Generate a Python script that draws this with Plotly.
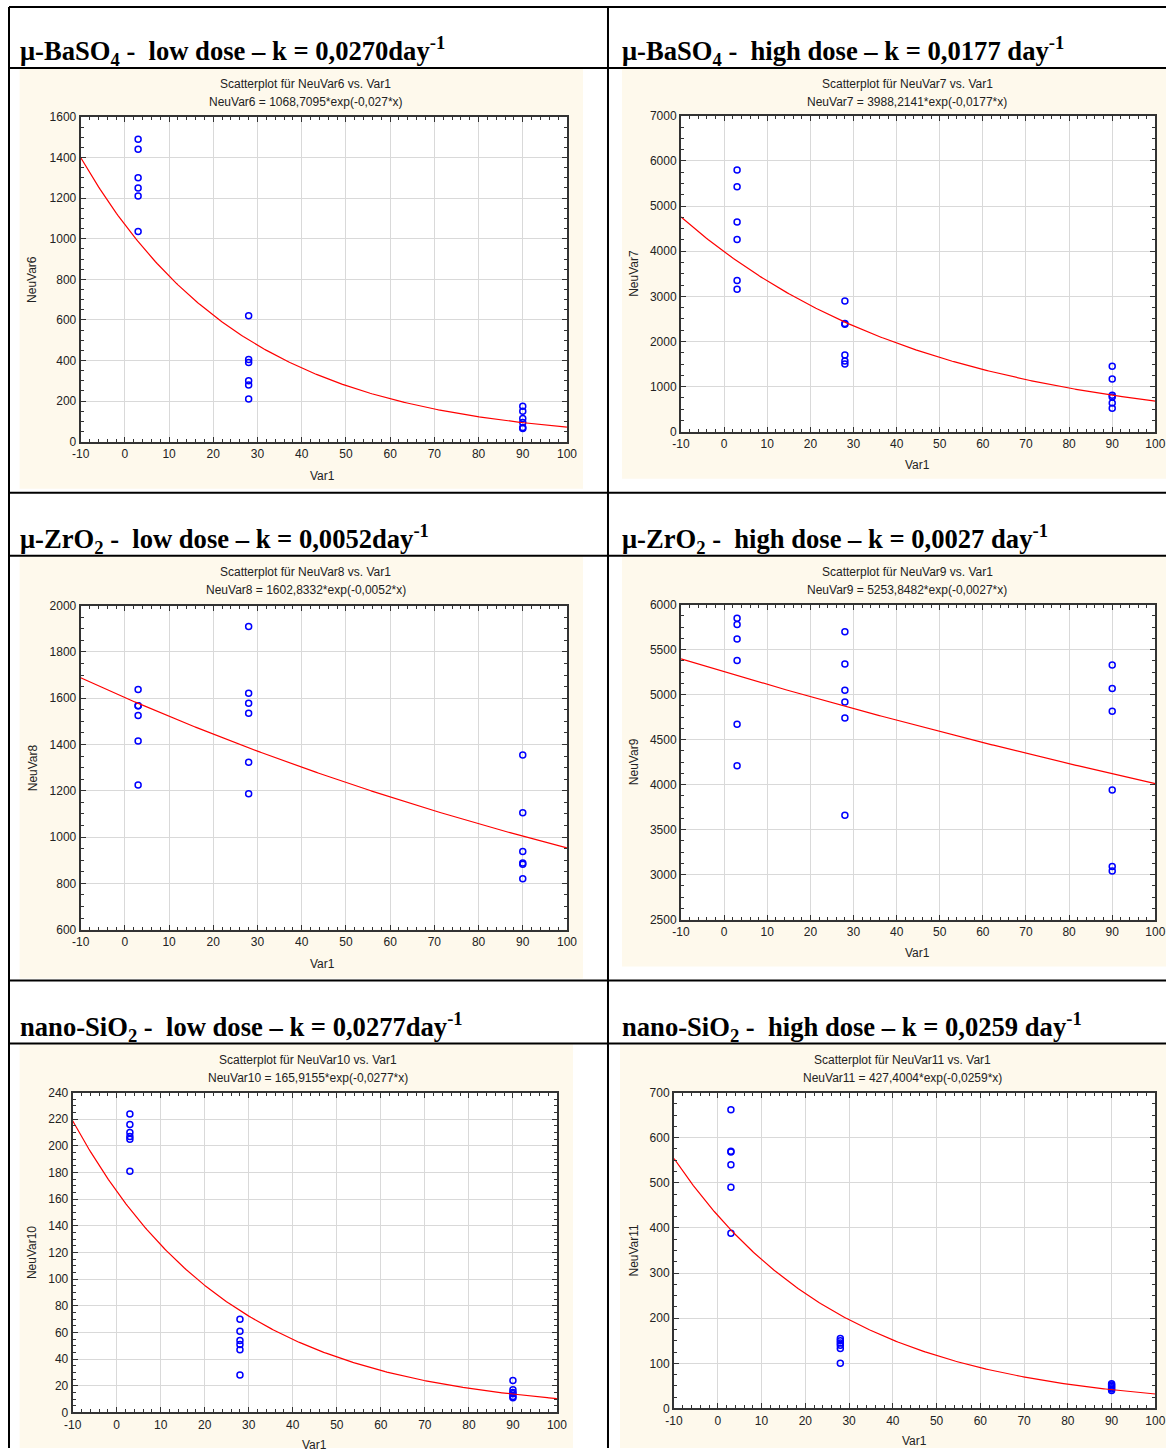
import plotly.graph_objects as go
import numpy as np

# ---------------- data ----------------
var1 = [3, 3, 3, 3, 3, 3, 28, 28, 28, 28, 28, 28, 90, 90, 90, 90, 90, 90]

neuvar6 = [1490, 1440, 1300, 1250, 1210, 1035, 620, 405, 390, 300, 280, 210, 175, 150, 115, 95, 70, 65]
neuvar7 = [5800, 5430, 4650, 4260, 3350, 3160, 2900, 2400, 2380, 1700, 1570, 1500, 1450, 1170, 810, 770, 640, 520]
neuvar8 = [1638, 1568, 1525, 1415, 1225, 1568, 1910, 1622, 1578, 1535, 1323, 1187, 1355, 1105, 938, 888, 882, 820]
neuvar9 = [5850, 5780, 5620, 5380, 4670, 4210, 5700, 5340, 5050, 4920, 4740, 3660, 5330, 5070, 4815, 3940, 3090, 3040]
neuvar10 = [224, 216, 210, 207, 205, 181, 70, 61, 54, 51, 47, 28, 24, 17, 15, 14, 12, 11]
neuvar11 = [662, 570, 568, 540, 490, 388, 155, 150, 145, 140, 133, 100, 55, 52, 49, 46, 43, 40]

series = [neuvar6, neuvar7, neuvar8, neuvar9, neuvar10, neuvar11]
var_names = ["NeuVar6", "NeuVar7", "NeuVar8", "NeuVar9", "NeuVar10", "NeuVar11"]

fit_A = [1068.7095, 3988.2141, 1602.8332, 5253.8482, 165.9155, 427.4004]
fit_k = [0.027, 0.0177, 0.0052, 0.0027, 0.0277, 0.0259]
fit_A_txt = ["1068,7095", "3988,2141", "1602,8332", "5253,8482", "165,9155", "427,4004"]
fit_k_txt = ["0,027", "0,0177", "0,0052", "0,0027", "0,0277", "0,0259"]

headers = [
    "μ-BaSO<sub>4</sub> -  low dose – k = 0,0270day<sup>-1</sup>",
    "μ-BaSO<sub>4</sub> -  high dose – k = 0,0177 day<sup>-1</sup>",
    "μ-ZrO<sub>2</sub> -  low dose – k = 0,0052day<sup>-1</sup>",
    "μ-ZrO<sub>2</sub> -  high dose – k = 0,0027 day<sup>-1</sup>",
    "nano-SiO<sub>2</sub> -  low dose – k = 0,0277day<sup>-1</sup>",
    "nano-SiO<sub>2</sub> -  high dose – k = 0,0259 day<sup>-1</sup>",
]

x_tickvals = [-10, 0, 10, 20, 30, 40, 50, 60, 70, 80, 90, 100]
x_ticktext = ["-10", "0", "10", "20", "30", "40", "50", "60", "70", "80", "90", "100"]
y_ranges = [[0, 1600], [0, 7000], [600, 2000], [2500, 6000], [0, 240], [0, 700]]
y_dticks = [200, 1000, 200, 500, 20, 100]
y_minor = [50, 250, 50, 125, 5, 25]
x_range = [-10, 100]

# ---------------- layout geometry (target picture pixels) ----------------
W, H = 1176, 1455
# measured mapping page -> photographed picture: pic = A + S * page
AX, SX = 9.4, 0.9832
AY, SY = 6.1, 0.9907

plot_px = [
    (81, 567, 116, 441),
    (681, 1155, 115, 431),
    (81, 567, 605, 929),
    (681, 1155, 604, 919),
    (73, 557, 1092, 1412),
    (674, 1155, 1092, 1408),
]
cream_px = [
    (20, 583, 67, 488),
    (622, 1170, 67, 478),
    (20, 583, 555, 978),
    (622, 1170, 555, 966),
    (20, 573, 1043, 1455),
    (620, 1170, 1043, 1455),
]
header_pos = [(18, 50.5), (620, 50.5), (18, 538.5), (620, 538.5), (18, 1026.5), (620, 1026.5)]
title_y = [(83, 101), (83, 101), (571, 589), (571, 589), (1059, 1077), (1059, 1077)]
title_x = [306, 907, 306, 907, 308, 902]
xlab_pos = [(323, 475), (917, 464), (323, 963), (917, 952), (315, 1445), (914, 1441)]
ylab_x = [33, 634, 33, 634, 33, 634]


def clamp(v):
    return min(max(v, 0.0), 1.0)


def px(x):
    return clamp(((x - AX) / SX) / W)


def py(y):
    return clamp(1 - ((y - AY) / SY) / H)


fig = go.Figure()
shapes = []
annotations = []

tick_font = dict(family="Arial, Liberation Sans, sans-serif", size=12, color="#222222")
small_font = dict(family="Arial, Liberation Sans, sans-serif", size=12, color="#222222")

for i in range(6):
    n = "" if i == 0 else str(i + 1)
    x0, x1, yt, yb = plot_px[i]
    cx0, cx1, cy0, cy1 = cream_px[i]
    shapes.append(dict(type="rect", xref="paper", yref="paper", x0=px(cx0), x1=px(cx1),
                       y0=py(cy1), y1=py(cy0), fillcolor="#FEF9EC", line=dict(width=0), layer="below"))
    shapes.append(dict(type="rect", xref="paper", yref="paper", x0=px(x0), x1=px(x1),
                       y0=py(yb), y1=py(yt), fillcolor="white", line=dict(width=0), layer="below"))

    fig.add_trace(go.Scatter(
        x=var1, y=series[i], mode="markers",
        marker=dict(symbol="circle-open", size=6, color="#0000FF", line=dict(width=1.5, color="#0000FF")),
        xaxis="x" + n, yaxis="y" + n, showlegend=False,
    ))
    xs = np.linspace(x_range[0], x_range[1], 300)
    fig.add_trace(go.Scatter(
        x=xs, y=fit_A[i] * np.exp(-fit_k[i] * xs), mode="lines",
        line=dict(color="#FF0000", width=1.2),
        xaxis="x" + n, yaxis="y" + n, showlegend=False,
    ))

    common = dict(showline=True, linewidth=2, linecolor="#333333", mirror="ticks",
                  ticks="inside", ticklen=5, tickwidth=1, tickcolor="#333333",
                  showgrid=True, gridcolor="#D9D9D9", gridwidth=1, zeroline=False,
                  tickfont=tick_font)
    fig.layout["xaxis" + n] = dict(
        domain=[px(x0), px(x1)], range=x_range, tickmode="array",
        tickvals=x_tickvals, ticktext=x_ticktext, anchor="y" + n,
        minor=dict(ticks="inside", ticklen=3, dtick=2, tickcolor="#333333", showgrid=False),
        **common)
    fig.layout["yaxis" + n] = dict(
        domain=[py(yb), py(yt)], range=y_ranges[i], dtick=y_dticks[i], tick0=0,
        anchor="x" + n, tickformat="d",
        minor=dict(ticks="inside", ticklen=3, dtick=y_minor[i], tickcolor="#333333", showgrid=False),
        **common)

    hx, hy = header_pos[i]
    annotations.append(dict(xref="paper", yref="paper", x=px(hx), y=py(hy), xanchor="left", yanchor="middle",
                            text="<b>" + headers[i] + "</b>", showarrow=False,
                            font=dict(family="Liberation Serif, Times New Roman, serif", size=26.6, color="black")))
    t1, t2 = title_y[i]
    annotations.append(dict(xref="paper", yref="paper", x=px(title_x[i]), y=py(t1), xanchor="center",
                            yanchor="middle", showarrow=False, font=small_font,
                            text="Scatterplot für " + var_names[i] + " vs. Var1"))
    annotations.append(dict(xref="paper", yref="paper", x=px(title_x[i]), y=py(t2), xanchor="center",
                            yanchor="middle", showarrow=False, font=small_font,
                            text=var_names[i] + " = " + fit_A_txt[i] + "*exp(-" + fit_k_txt[i] + "*x)"))
    lx, ly = xlab_pos[i]
    annotations.append(dict(xref="paper", yref="paper", x=px(lx), y=py(ly), xanchor="center",
                            yanchor="middle", showarrow=False, font=small_font, text="Var1"))
    annotations.append(dict(xref="paper", yref="paper", x=px(ylab_x[i]), y=py((yt + yb) / 2),
                            xanchor="center", yanchor="middle", showarrow=False, font=small_font,
                            text=var_names[i], textangle=-90))

# table lines
line_style = dict(color="black", width=2)
for yy in [5, 67, 492, 555, 980, 1043]:
    shapes.append(dict(type="line", xref="paper", yref="paper", x0=px(6), x1=1, y0=py(yy), y1=py(yy),
                       line=line_style, layer="above"))
for xx in [6, 608]:
    shapes.append(dict(type="line", xref="paper", yref="paper", x0=px(xx), x1=px(xx), y0=py(5), y1=0,
                       line=line_style, layer="above"))

fig.update_layout(
    width=W, height=H, margin=dict(l=0, r=0, t=0, b=0),
    paper_bgcolor="white", plot_bgcolor="white",
    shapes=shapes, annotations=annotations, showlegend=False,
)

fig.write_html(
    "out.html",
    config={"displayModeBar": False},
    post_script="document.body.style.margin='0';document.body.style.overflow='hidden';"
                "document.documentElement.style.overflow='hidden';",
)
